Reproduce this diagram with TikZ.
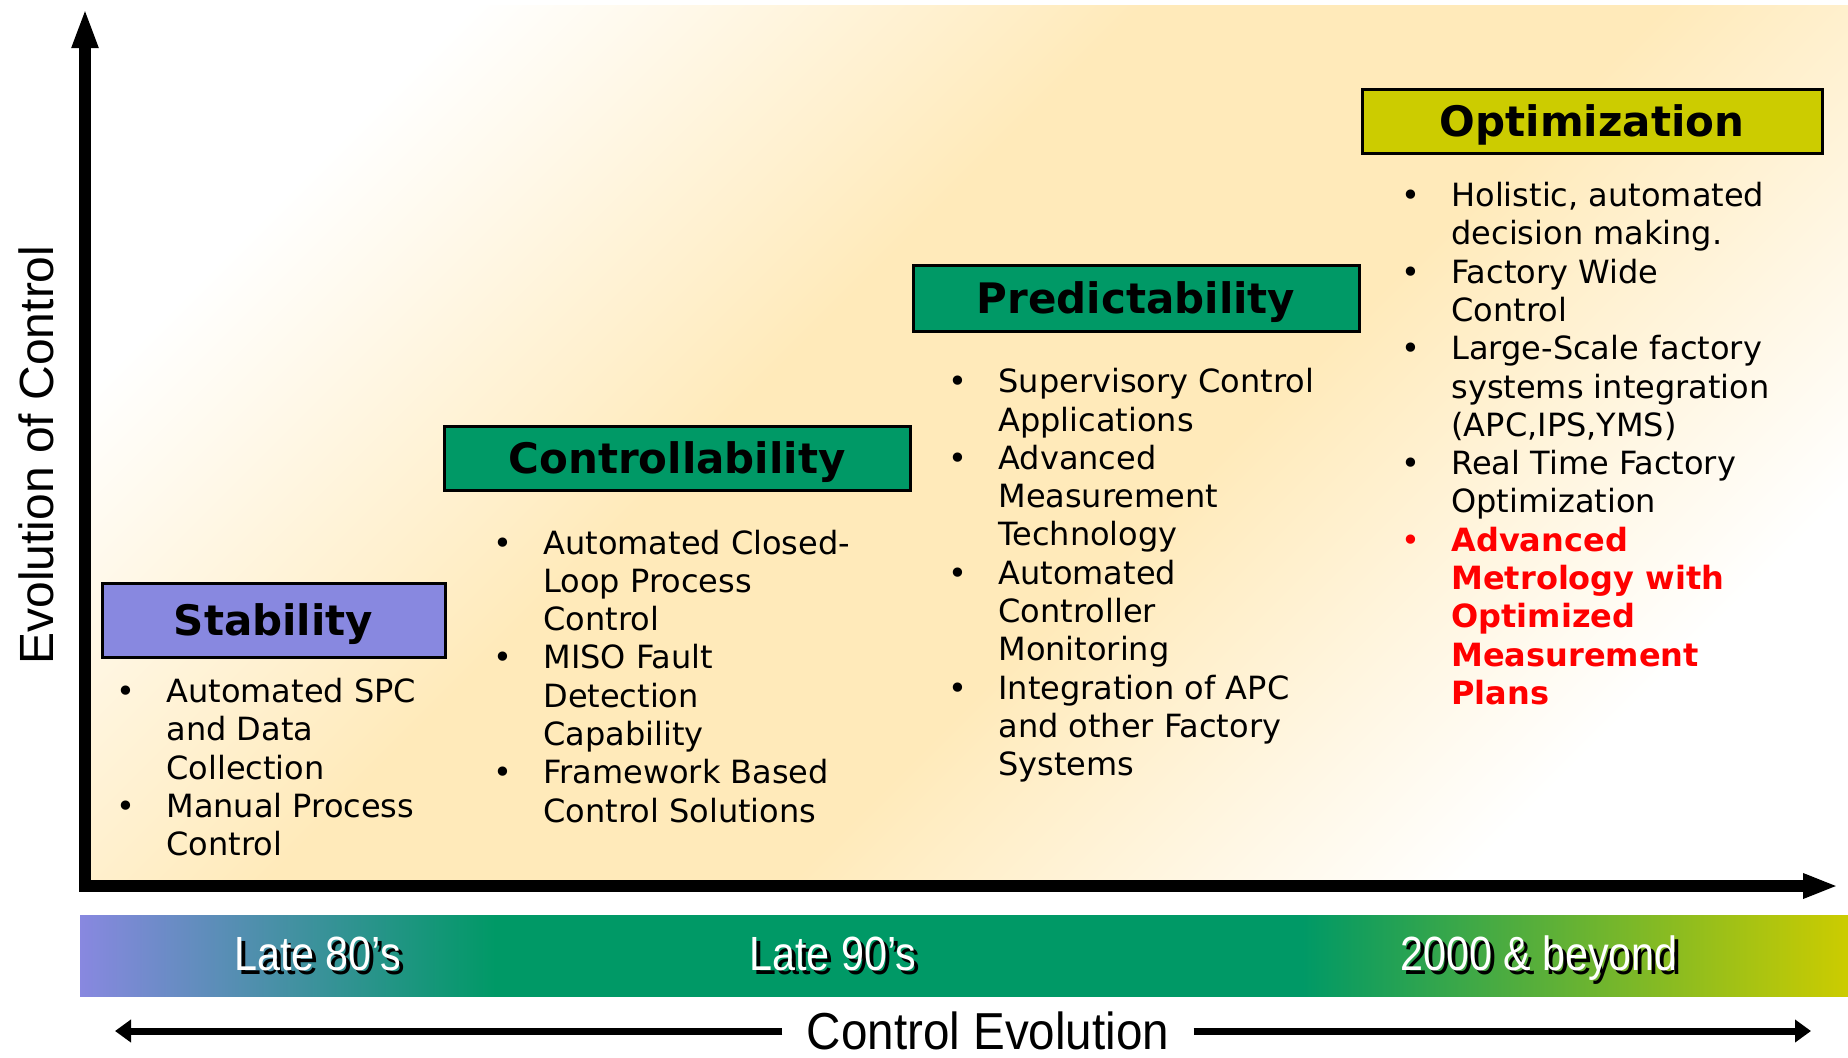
\documentclass[tikz,border=0pt]{standalone}
\usepackage{fontspec}
\setmainfont{DejaVu Sans}
\newfontfamily\labelfont{Liberation Sans}
\newfontfamily\bandfont[FakeStretch=0.86]{Liberation Sans}
\newfontfamily\evofont[FakeStretch=0.915]{Liberation Sans}
\usetikzlibrary{arrows.meta}

\definecolor{peach}{RGB}{255,234,186}
\definecolor{stabfill}{RGB}{136,136,224}
\definecolor{ctrlfill}{RGB}{0,153,102}
\definecolor{optfill}{RGB}{204,204,0}
\definecolor{hotred}{RGB}{255,0,0}

% soft backdrop: white corners, warm band along the rising diagonal
\pgfdeclareverticalshading{backdrop}{100bp}{color(0bp)=(white); color(25bp)=(white); color(43bp)=(peach); color(57bp)=(peach); color(75bp)=(white); color(100bp)=(white)}

% era band: blue fades into green, green fades into olive
\pgfdeclarehorizontalshading{eraband}{100bp}{color(0bp)=(stabfill); color(25bp)=(stabfill); color(36.74bp)=(ctrlfill); color(59.56bp)=(ctrlfill); color(75bp)=(optfill); color(100bp)=(optfill)}

% bullet list helpers
\newcommand\bul{\makebox[0pt]{•}\hspace{20pt}}
\newcommand\ind{\hspace{20pt}}
\newcommand\hot[1]{\textcolor{hotred}{\bfseries #1}}
% white lettering with a dark drop shadow
\newcommand\shadowed[1]{\makebox[0pt][l]{\hspace{2pt}\raisebox{-2pt}{\textcolor{black}{#1}}}\textcolor{white}{#1}}

\begin{document}
\begin{tikzpicture}[x=0.5pt, y=-0.5pt,
  hbox/.style={draw=black, line width=1.5pt, inner sep=0pt,
    font=\fontsize{21pt}{25pt}\selectfont\bfseries, text height=15.3pt, text depth=0pt},
  itemlist/.style={anchor=north west, inner sep=0pt,
    font=\fontsize{16pt}{19.15pt}\selectfont},
  bandlbl/.style={anchor=base, inner sep=0pt,
    font=\bandfont\fontsize{24pt}{28pt}\selectfont},
  axisline/.style={line width=6pt, line join=miter},
  evoarrow/.style={line width=3.5pt, -{Triangle[length=8pt,width=11pt]}},
]
\useasboundingbox (0,0) rectangle (1848,1057);

% backdrop of the chart area
\shade[shading=backdrop, shading angle=45] (80,5) rectangle (1848,886);

% era band
\shade[shading=eraband] (80,915) rectangle (1848,996);

\node[bandlbl] (late80) at (317.5,970) {\shadowed{Late 80’s}};
\node[bandlbl] (late90) at (833,970) {\shadowed{Late 90’s}};
\node[bandlbl] (beyond) at (1539,970) {\shadowed{2000 \& beyond}};

% axes
\coordinate (orig) at (85,886);
\coordinate (ytip) at (85,8);
\coordinate (xtip) at (1838,886);
\draw[axisline, {Triangle[length=20pt,width=12pt]}-{Triangle[length=17.5pt,width=11.5pt]}]
  (ytip) -- (orig) -- (xtip);

\node[font=\labelfont\fontsize{24pt}{28pt}\selectfont, rotate=90, anchor=base, inner sep=0pt]
  (ylab) at (54,455) {Evolution of Control};

% control evolution arrow
\node[font=\evofont\fontsize{26pt}{30pt}\selectfont, inner xsep=12pt, inner ysep=0pt]
  (cevo) at (988,1031) {Control Evolution};
\coordinate (evoL) at (115,1031);
\coordinate (evoR) at (1811,1031);
\draw[evoarrow] (cevo.west) -- (evoL);
\draw[evoarrow] (cevo.east) -- (evoR);

% stage headings
\node[hbox, fill=stabfill, minimum width=171.5pt, minimum height=37pt] (stab) at (273.5,620) {Stability};
\node[hbox, fill=ctrlfill, minimum width=233pt, minimum height=32pt] (ctrl) at (677,458.5) {Controllability};
\node[hbox, fill=ctrlfill, minimum width=223pt, minimum height=33pt] (pred) at (1136,298) {Predictability};
\node[hbox, fill=optfill, minimum width=230pt, minimum height=32pt] (optim) at (1592,121) {Optimization};

% stage contents
\node[itemlist] (stabitems) at (126,675.4) {\begin{tabular}{@{}l@{}}
\bul Automated SPC\\
\ind and Data\\
\ind Collection\\
\bul Manual Process\\
\ind Control
\end{tabular}};

\node[itemlist] (ctrlitems) at (503,526.8) {\begin{tabular}{@{}l@{}}
\bul Automated Closed-\\
\ind Loop Process\\
\ind Control\\
\bul MISO Fault\\
\ind Detection\\
\ind Capability\\
\bul Framework Based\\
\ind Control Solutions
\end{tabular}};

\node[itemlist] (preditems) at (958,365.5) {\begin{tabular}{@{}l@{}}
\bul Supervisory Control\\
\ind Applications\\
\bul Advanced\\
\ind Measurement\\
\ind Technology\\
\bul Automated\\
\ind Controller\\
\ind Monitoring\\
\bul Integration of APC\\
\ind and other Factory\\
\ind Systems
\end{tabular}};

\node[itemlist] (optitems) at (1411,179.3) {\begin{tabular}{@{}l@{}}
\bul Holistic, automated\\
\ind decision making.\\
\bul Factory Wide\\
\ind Control\\
\bul Large-Scale factory\\
\ind systems integration\\
\ind (APC,IPS,YMS)\\
\bul Real Time Factory\\
\ind Optimization\\
\textcolor{hotred}{\bul}\hot{Advanced}\\
\ind\hot{Metrology with}\\
\ind\hot{Optimized}\\
\ind\hot{Measurement}\\
\ind\hot{Plans}
\end{tabular}};
\end{tikzpicture}
\end{document}
